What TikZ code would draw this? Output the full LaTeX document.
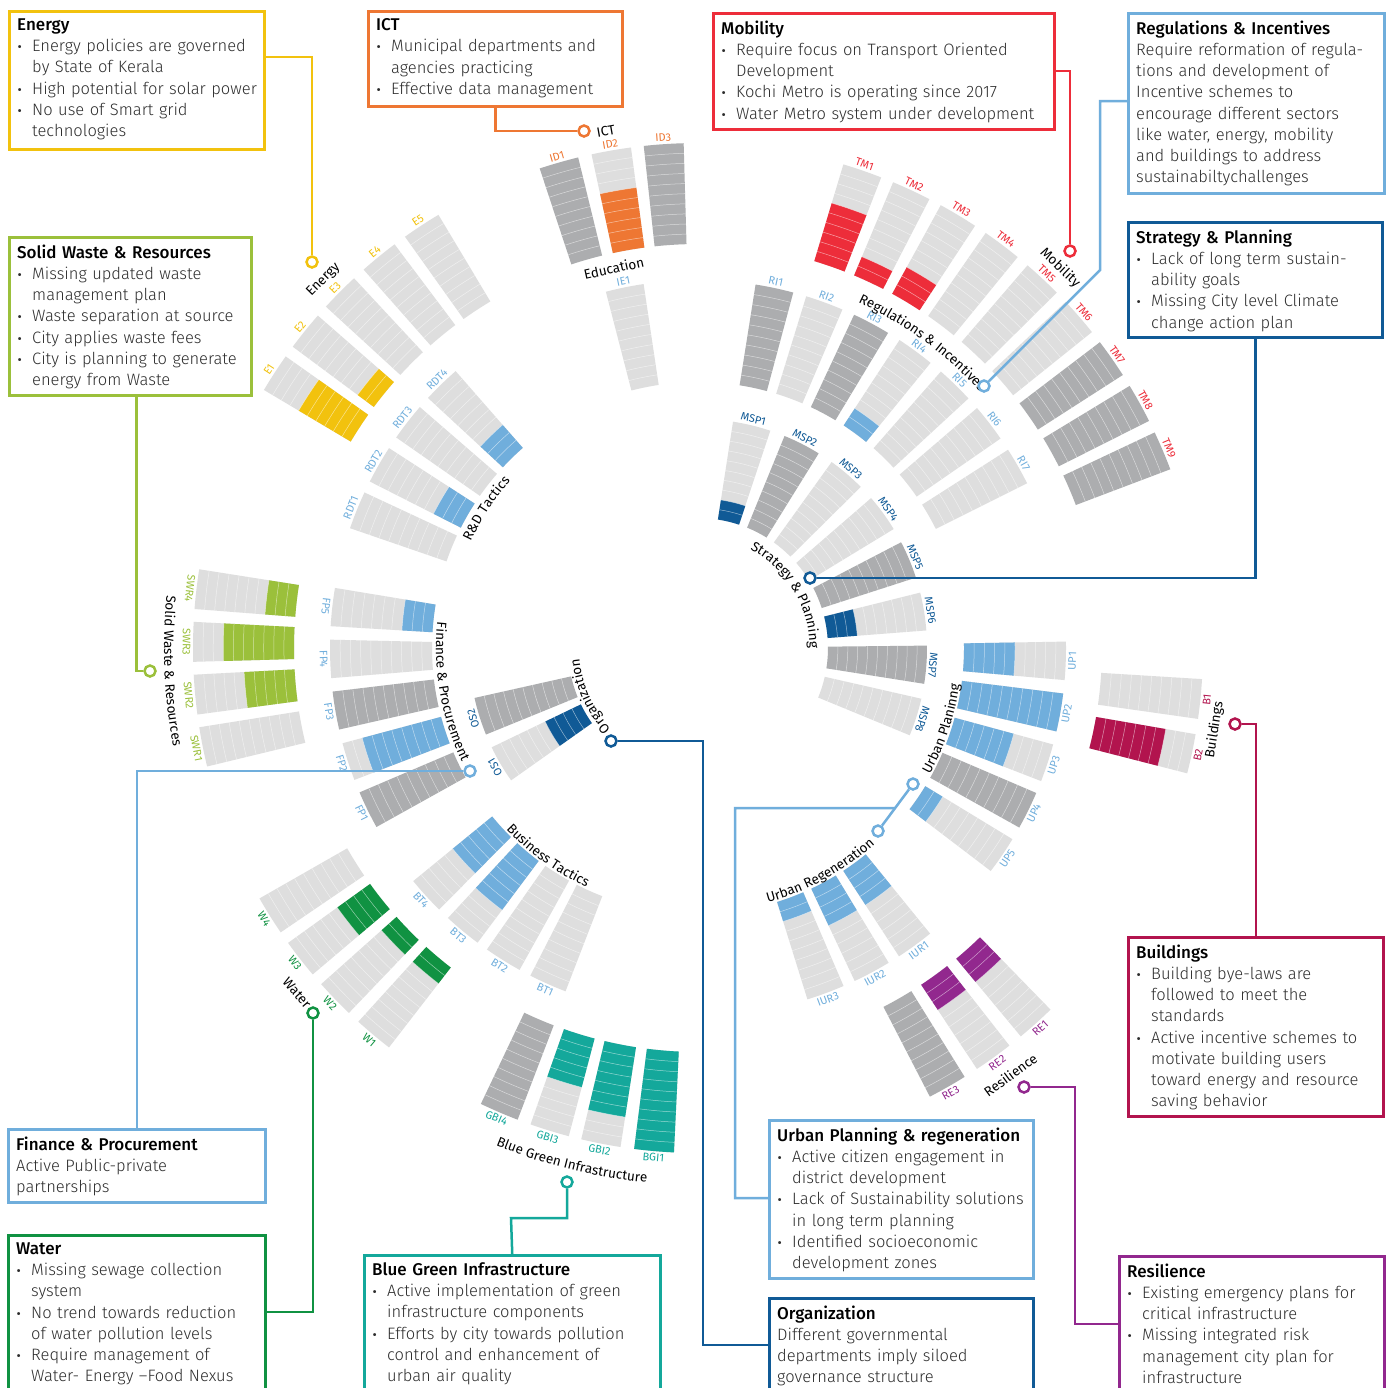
\documentclass[tikz,border=0pt]{standalone}
\usepackage{fontspec}
\setmainfont{Fira Sans}[UprightFont={* Light},BoldFont={* Medium}]
\newfontfamily\glfont{Fira Sans}
\usetikzlibrary{calc,decorations.text}

\definecolor{cE}{RGB}{242,194,14}
\definecolor{cICT}{RGB}{238,119,51}
\definecolor{cTM}{RGB}{237,45,58}
\definecolor{cLB}{RGB}{112,174,220}
\definecolor{cDB}{RGB}{16,90,150}
\definecolor{cB}{RGB}{178,20,78}
\definecolor{cRE}{RGB}{146,40,142}
\definecolor{cBG}{RGB}{20,168,155}
\definecolor{cW}{RGB}{16,146,66}
\definecolor{cSW}{RGB}{155,192,59}
\definecolor{lgray}{RGB}{222,222,222}
\definecolor{dgray}{RGB}{172,173,175}
\definecolor{txt}{RGB}{45,45,45}

\def\rAi{130}\def\rAo{229}\def\rAw{4.8}
\def\rBi{266}\def\rBo{368}\def\rBw{3.0}
\def\rCi{404}\def\rCo{505}\def\rCw{2.27}

\tikzset{
  cellline/.style={white, line width=0.5pt, opacity=0.55},
  barlbl/.style={font=\glfont\fontsize{11}{12}\selectfont, inner sep=0pt},
  grplbl/.style={font=\glfont\fontsize{13.5}{15}\selectfont, inner sep=0pt, text=black},
  ibox/.style={anchor=north west, line width=2.5pt, inner sep=0pt},
  itext/.style={anchor=north west, inner sep=0pt, align=left, text=txt, font=\fontsize{16.5}{21.2}\selectfont},
  conn/.style={line width=2.5pt},
  marker/.style={circle, draw, fill=white, line width=2.5pt, inner sep=0pt, minimum size=11pt}
}

% #1 angle #2 ring #3 frac #4 fill #5 base #6 label #7 label colour #8 rotation offset
\newcommand{\rbar}[8]{%
  \pgfmathsetmacro\ra{\csname r#2i\endcsname}%
  \pgfmathsetmacro\rb{\csname r#2o\endcsname}%
  \pgfmathsetmacro\hw{\csname r#2w\endcsname}%
  \pgfmathsetmacro\aL{#1-\hw}%
  \pgfmathsetmacro\aR{#1+\hw}%
  \pgfmathsetmacro\rf{\ra+#3*(\rb-\ra)}%
  \fill[#5] (\aL:\ra) arc[start angle=\aL,end angle=\aR,radius=\ra] -- (\aR:\rb) arc[start angle=\aR,end angle=\aL,radius=\rb] -- cycle;
  \ifdim#3pt>0pt
  \fill[#4] (\aL:\ra) arc[start angle=\aL,end angle=\aR,radius=\ra] -- (\aR:\rf) arc[start angle=\aR,end angle=\aL,radius=\rf] -- cycle;
  \fi
  \foreach \k in {1,...,9}{\pgfmathsetmacro\rk{\ra+\k*(\rb-\ra)/10}\draw[cellline] (\aL:\rk) arc[start angle=\aL,end angle=\aR,radius=\rk];}
  \pgfmathsetmacro\rl{\rb+6.5}%
  \node[barlbl,text=#7,rotate={#1+(#8)}] (L#6) at (#1:\rl) {#6};
}

\newcommand{\arclbl}[4]{%
  \path[decorate,decoration={text along path,text align=center,text={|\glfont\fontsize{13.5}{15}\selectfont|#1}}]
    (#3:#2) arc[start angle=#3,end angle=#4,radius=#2];}

\newcommand{\ttl}[1]{{\bfseries\fontsize{17}{21.2}\selectfont\color{black}#1}}
\newcommand{\bi}{\par\noindent\hangindent=15pt\hangafter=1\makebox[15pt][l]{\hspace{0.5pt}{\glfont\fontsize{13}{13}\selectfont •}}}
\newcommand{\pl}{\par\noindent}

% #1 name #2 colour #3 x #4 y #5 w #6 h #7 content
\newcommand{\infobox}[7]{%
  \node[ibox,draw=#2,minimum width=#5pt,minimum height=#6pt] (#1) at (#3,-#4) {};
  \node[itext,text width=\dimexpr#5pt-14pt\relax] (#1t) at ([xshift=9pt,yshift=-8.5pt]#1.north west) {#7\par};
}

\begin{document}
\begin{tikzpicture}[x=1pt,y=1pt]
\useasboundingbox (0,0) rectangle (1389,-1387);
\fill[white] (0,0) rectangle (1389,-1387);

\begin{scope}[shift={(698,-648)}]
% ---------- ring C ----------
\rbar{147.0}{C}{0.6}{cE}{lgray}{E1}{cE}{-90}
\rbar{141.1}{C}{0.2}{cE}{lgray}{E2}{cE}{-90}
\rbar{135.2}{C}{0}{cE}{lgray}{E3}{cE}{-90}
\rbar{129.2}{C}{0}{cE}{lgray}{E4}{cE}{-90}
\rbar{123.2}{C}{0}{cE}{lgray}{E5}{cE}{-90}
\rbar{106.0}{C}{0}{cICT}{dgray}{ID1}{cICT}{-90}
\rbar{99.9}{C}{0.6}{cICT}{lgray}{ID2}{cICT}{-90}
\rbar{93.9}{C}{0}{cICT}{dgray}{ID3}{cICT}{-90}
\rbar{71}{C}{0.6}{cTM}{lgray}{TM1}{cTM}{-90}
\rbar{65}{C}{0.2}{cTM}{lgray}{TM2}{cTM}{-90}
\rbar{59}{C}{0.3}{cTM}{lgray}{TM3}{cTM}{-90}
\rbar{53}{C}{0}{cTM}{lgray}{TM4}{cTM}{-90}
\rbar{47}{C}{0}{cTM}{lgray}{TM5}{cTM}{-90}
\rbar{41}{C}{0}{cTM}{lgray}{TM6}{cTM}{-90}
\rbar{35}{C}{0}{cTM}{dgray}{TM7}{cTM}{-90}
\rbar{29}{C}{0}{cTM}{dgray}{TM8}{cTM}{-90}
\rbar{23}{C}{0}{cTM}{dgray}{TM9}{cTM}{-90}
\rbar{354.2}{C}{0}{cB}{lgray}{B1}{cB}{90}
\rbar{347.9}{C}{0.7}{cB}{lgray}{B2}{cB}{90}
\rbar{312}{C}{0.3}{cRE}{lgray}{RE1}{cRE}{90}
\rbar{305.8}{C}{0.3}{cRE}{lgray}{RE2}{cRE}{90}
\rbar{299.6}{C}{0}{cRE}{dgray}{RE3}{cRE}{90}
\rbar{246.8}{C}{0}{cBG}{dgray}{GBI4}{cBG}{90}
\rbar{252.9}{C}{0.5}{cBG}{lgray}{GBI3}{cBG}{90}
\rbar{258.9}{C}{0.7}{cBG}{lgray}{GBI2}{cBG}{90}
\rbar{265}{C}{1}{cBG}{lgray}{BGI1}{cBG}{90}
\rbar{212}{C}{0}{cW}{lgray}{W4}{cW}{90}
\rbar{218}{C}{0.4}{cW}{lgray}{W3}{cW}{90}
\rbar{224}{C}{0.2}{cW}{lgray}{W2}{cW}{90}
\rbar{230}{C}{0.2}{cW}{lgray}{W1}{cW}{90}
\rbar{173.3}{C}{0.3}{cSW}{lgray}{SWR4}{cSW}{90}
\rbar{179.3}{C}{0.7}{cSW}{lgray}{SWR3}{cSW}{90}
\rbar{185.3}{C}{0.5}{cSW}{lgray}{SWR2}{cSW}{90}
\rbar{191.3}{C}{0}{cSW}{lgray}{SWR1}{cSW}{90}
% ---------- ring B ----------
\rbar{158}{B}{0}{cLB}{lgray}{RDT1}{cLB}{-90}
\rbar{150.1}{B}{0.3}{cLB}{lgray}{RDT2}{cLB}{-90}
\rbar{142.1}{B}{0}{cLB}{lgray}{RDT3}{cLB}{-90}
\rbar{134.2}{B}{0.3}{cLB}{lgray}{RDT4}{cLB}{-90}
\rbar{101.5}{B}{0}{cLB}{lgray}{IE1}{cLB}{-90}
\rbar{78}{B}{0}{cLB}{dgray}{RI1}{cLB}{-90}
\rbar{69.9}{B}{0}{cLB}{lgray}{RI2}{cLB}{-90}
\rbar{61.9}{B}{0}{cLB}{dgray}{RI3}{cLB}{-90}
\rbar{53.8}{B}{0.2}{cLB}{lgray}{RI4}{cLB}{-90}
\rbar{45.7}{B}{0}{cLB}{lgray}{RI5}{cLB}{-90}
\rbar{37.7}{B}{0}{cLB}{lgray}{RI6}{cLB}{-90}
\rbar{29.6}{B}{0}{cLB}{lgray}{RI7}{cLB}{-90}
\rbar{-2}{B}{0.5}{cLB}{lgray}{UP1}{cLB}{90}
\rbar{-10.1}{B}{1}{cLB}{lgray}{UP2}{cLB}{90}
\rbar{-18.2}{B}{0.6}{cLB}{lgray}{UP3}{cLB}{90}
\rbar{-26.2}{B}{0}{cLB}{dgray}{UP4}{cLB}{90}
\rbar{-34.3}{B}{0.2}{cLB}{lgray}{UP5}{cLB}{90}
\rbar{306.1}{B}{0.4}{cLB}{lgray}{IUR1}{cLB}{90}
\rbar{298.2}{B}{0.4}{cLB}{lgray}{IUR2}{cLB}{90}
\rbar{290.3}{B}{0.2}{cLB}{lgray}{IUR3}{cLB}{90}
\rbar{222.3}{B}{0.5}{cLB}{lgray}{BT4}{cLB}{90}
\rbar{230.2}{B}{0.6}{cLB}{lgray}{BT3}{cLB}{90}
\rbar{238}{B}{0}{cLB}{lgray}{BT2}{cLB}{90}
\rbar{245.9}{B}{0}{cLB}{lgray}{BT1}{cLB}{90}
\rbar{173.6}{B}{0.3}{cLB}{lgray}{FP5}{cLB}{90}
\rbar{181.7}{B}{0}{cLB}{lgray}{FP4}{cLB}{90}
\rbar{189.8}{B}{0}{cLB}{dgray}{FP3}{cLB}{90}
\rbar{198}{B}{0.8}{cLB}{lgray}{FP2}{cLB}{90}
\rbar{206.1}{B}{0}{cLB}{dgray}{FP1}{cLB}{90}
% ---------- ring A ----------
\rbar{76.4}{A}{0.2}{cDB}{lgray}{MSP1}{cDB}{-90}
\rbar{63}{A}{0}{cDB}{dgray}{MSP2}{cDB}{-90}
\rbar{49.5}{A}{0}{cDB}{lgray}{MSP3}{cDB}{-90}
\rbar{36.1}{A}{0}{cDB}{lgray}{MSP4}{cDB}{-90}
\rbar{22.7}{A}{0}{cDB}{dgray}{MSP5}{cDB}{-90}
\rbar{9.2}{A}{0.3}{cDB}{lgray}{MSP6}{cDB}{-90}
\rbar{-4.2}{A}{0}{cDB}{dgray}{MSP7}{cDB}{-90}
\rbar{-17.6}{A}{0}{cDB}{lgray}{MSP8}{cDB}{-90}
\rbar{197.4}{A}{0}{cDB}{dgray}{OS2}{cDB}{-90}
\rbar{210.5}{A}{0.4}{cDB}{lgray}{OS1}{cDB}{-90}

% ---------- group labels ----------
\node[grplbl,rotate=45.5] (gE) at (135.5:525) {Energy};
\node[grplbl,rotate=10.1] (gICT) at (100.1:525) {ICT};
\node[grplbl,rotate=12.5] (gIE) at (102.5:389) {Education};
\node[grplbl,rotate=-43.6] (gM) at (46.4:525) {Mobility};
\node[grplbl,rotate=81] (gB) at (-9:523) {Buildings};
\node[grplbl,rotate=36.2] (gRE) at (-53.8:529) {Resilience};
\node[grplbl,rotate=-49.3] (gW) at (220.7:529) {Water};
\arclbl{Strategy {\&} Planning}{111.5}{76}{-14}
\arclbl{Regulations {\&} Incentives}{381}{80}{27.4}
\arclbl{Blue Green Infrastructure}{537}{231}{281.4}
\arclbl{Finance {\&} Procurement}{262}{160}{220}
\arclbl{Solid Waste {\&} Resources}{534}{160}{205}
\arclbl{Urban Regeneration}{264}{270}{327.4}
\arclbl{Business Tactics}{264}{214}{254.4}
\arclbl{R{\&}D Tactics}{251}{170}{123.2}
\arclbl{Urban Planinng}{264}{320}{363.4}
\arclbl{Organization}{119}{234}{174}
\end{scope}

% ---------- boxes ----------
\infobox{boxE}{cE}{8}{10}{255}{138}{\ttl{Energy}\bi Energy policies are governed\newline by State of Kerala\bi High potential for solar power\bi No use of Smart grid\newline technologies}
\infobox{boxICT}{cICT}{367}{10}{254}{95}{\ttl{ICT}\bi Municipal departments and\newline agencies practicing\bi Effective data management}
\infobox{boxM}{cTM}{712}{12}{341}{116}{\ttl{Mobility}\bi Require focus on Transport Oriented\newline Development\bi Kochi Metro is operating since 2017\bi Water Metro system under development}
\infobox{boxR}{cLB}{1127}{12}{256}{180}{\ttl{Regulations \& Incentives}\pl Require reformation of regula-\newline tions and development of\newline Incentive schemes to\newline encourage different sectors\newline like water, energy, mobility\newline and buildings to address\newline sustainabiltychallenges}
\infobox{boxS}{cDB}{1127}{221}{254}{115}{\ttl{Strategy \& Planning}\bi Lack of long term sustain-\newline ability goals\bi Missing City level Climate\newline change action plan}
\infobox{boxSW}{cSW}{8}{236}{242}{158}{\ttl{Solid Waste \& Resources}\bi Missing updated waste\newline management plan\bi Waste separation at source\bi City applies waste fees\bi City is planning to generate\newline energy from Waste}
\infobox{boxFP}{cLB}{7}{1128}{257}{73}{\ttl{Finance \& Procurement}\pl Active Public-private\newline partnerships}
\infobox{boxW}{cW}{7}{1234}{257}{200}{\ttl{Water}\bi Missing sewage collection\newline system\bi No trend towards reduction\newline of water pollution levels\bi Require management of\newline Water- Energy –Food Nexus}
\infobox{boxBG}{cBG}{363}{1254}{296}{200}{\ttl{Blue Green Infrastructure}\bi Active implementation of green\newline infrastructure components\bi Efforts by city towards pollution\newline control and enhancement of\newline urban air quality}
\infobox{boxUP}{cLB}{768}{1119}{264}{158}{\ttl{Urban Planning \& regeneration}\bi Active citizen engagement in\newline district development\bi Lack of Sustainability solutions\newline in long term planning\bi Identified socioeconomic\newline development zones}
\infobox{boxO}{cDB}{768}{1297}{264}{150}{\ttl{Organization}\pl Different governmental\newline departments imply siloed\newline governance structure}
\infobox{boxB}{cB}{1127}{936}{255}{179}{\ttl{Buildings}\bi Building bye-laws are\newline followed to meet the\newline standards\bi Active incentive schemes to\newline motivate building users\newline toward energy and resource\newline saving behavior}
\infobox{boxRE}{cRE}{1118}{1255}{265}{200}{\ttl{Resilience}\bi Existing emergency plans for\newline critical infrastructure\bi Missing integrated risk\newline management city plan for\newline infrastructure}

% ---------- markers ----------
\node[marker,draw=cE] (cirE) at (312,-262) {};
\node[marker,draw=cICT] (cirICT) at (584,-131) {};
\node[marker,draw=cTM] (cirM) at (1070,-251) {};
\node[marker,draw=cLB] (cirR) at (984,-386) {};
\node[marker,draw=cDB] (cirS) at (810,-578) {};
\node[marker,draw=cSW] (cirSW) at (150,-671) {};
\node[marker,draw=cLB] (cirFP) at (470,-771) {};
\node[marker,draw=cDB] (cirO) at (611,-741) {};
\node[marker,draw=cB] (cirB) at (1235,-724) {};
\node[marker,draw=cLB] (cirUP) at (913,-784) {};
\node[marker,draw=cLB] (cirUR) at (878,-831) {};
\node[marker,draw=cRE] (cirRE) at (1024,-1087) {};
\node[marker,draw=cBG] (cirBG) at (567,-1182) {};
\node[marker,draw=cW] (cirW) at (313,-1013) {};

% ---------- connectors ----------
\draw[conn,cE] ([yshift=-47pt]boxE.north east) -| (cirE);
\draw[conn,cICT] (boxICT.south) |- (cirICT);
\draw[conn,cTM] ([yshift=-59pt]boxM.north east) -| (cirM);
\coordinate (kR) at (1100,-270);
\draw[conn,cLB] ([yshift=-89pt]boxR.north west) -| (kR) -- (cirR);
\draw[conn,cDB] (boxS.south) |- (cirS);
\draw[conn,cSW] ([xshift=6pt]boxSW.south) |- (cirSW);
\draw[conn,cLB] (boxFP.north) |- (cirFP);
\draw[conn,cW] ([yshift=-78pt]boxW.north east) -| (cirW);
\coordinate (kBG) at (511,-1218);
\draw[conn,cBG] (boxBG.north) -- (kBG) -| (cirBG);
\coordinate (kUP) at (735,-808);
\coordinate (kUP2) at ($(cirUR)!0.489!(cirUP)$);
\draw[conn,cLB] ([yshift=-79pt]boxUP.north west) -| (kUP) -- (kUP2);
\draw[conn,cLB] (cirUR) -- (cirUP);
\coordinate (kO) at (703,-741);
\draw[conn,cDB] ([yshift=-48pt]boxO.north west) -| (kO) -- (cirO);
\draw[conn,cB] (boxB.north) |- (cirB);
\coordinate (kRE) at (1075,-1087);
\draw[conn,cRE] ([yshift=-69pt]boxRE.north west) -| (kRE) -- (cirRE);
\end{tikzpicture}
\end{document}
